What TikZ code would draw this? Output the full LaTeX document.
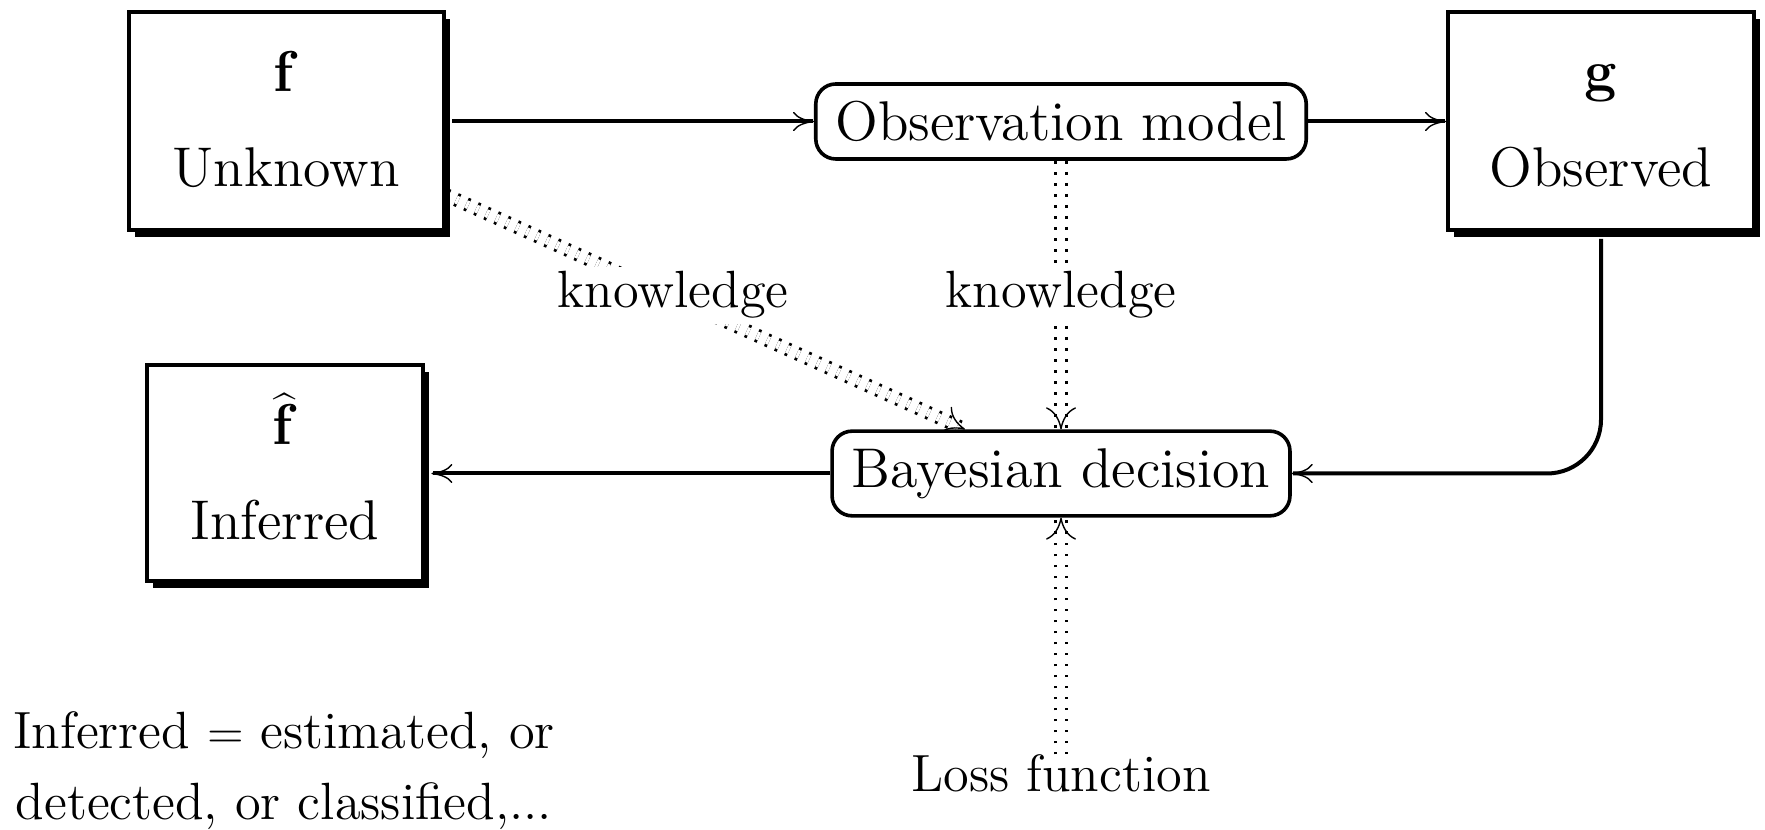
\documentclass[tikz,border=0pt]{standalone}
\usetikzlibrary{arrows.meta,shadows,backgrounds,decorations.markings}
\begin{document}
\begin{tikzpicture}[x=0.25pt,y=-0.25pt,
  bigfont/.style={font=\fontsize{14}{16}\selectfont},
  smallfont/.style={font=\fontsize{13.1}{15}\selectfont},
  sbox/.style={draw, line width=1pt, fill=white, inner sep=0pt,
    drop shadow={shadow xshift=1.6pt, shadow yshift=-1.6pt, fill=black, opacity=1}},
  rbox/.style={draw, line width=0.9pt, fill=white, rounded corners=5pt,
    inner xsep=4.9pt, inner ysep=4.3pt, bigfont},
  intext/.style={anchor=base, inner sep=0pt, bigfont},
  plain/.style={anchor=base, inner sep=0pt, smallfont},
  lbl/.style={anchor=base, fill=white, inner sep=1.2pt, smallfont},
  arr/.style={line width=1pt,
    -{Computer Modern Rightarrow[length=5.25pt,width=4.8pt,line width=0.35pt]}},
  kline/.style={line width=0.7pt, double distance=2.05pt,
    dash pattern=on 0.7pt off 2.05pt},
  ktip/.style={decorate, decoration={markings, mark=at position 0.9999 with
    {\arrow{Computer Modern Rightarrow[length=5.5pt,width=7.5pt,line width=0.35pt]}}}},
]
\useasboundingbox (0,0) rectangle (1765,830);

% shadowed boxes with their two text lines
\node[sbox, minimum width=78.75pt, minimum height=54.5pt] (fbox) at (286.5,121.5) {};
\node[intext] (ftext) at (286,92) {$\mathbf{f}$};
\node[intext] (flabel) at (286,187) {Unknown};

\node[sbox, minimum width=76.5pt, minimum height=54.5pt] (gbox) at (1601,121.5) {};
\node[intext] (gtext) at (1601,91) {$\mathbf{g}$};
\node[intext] (glabel) at (1601,187) {Observed};

\node[sbox, minimum width=69pt, minimum height=54pt] (fhbox) at (285,473.5) {};
\node[intext] (fhtext) at (285,445) {$\widehat{\mathbf{f}}$};
\node[intext] (fhlabel) at (285,540) {Inferred};

% rounded process boxes
\node[rbox] (obs) at (1061,121.5) {Observation model};
\node[rbox] (bayes) at (1061,473.5) {Bayesian decision};

% labels and free text
\node[lbl] (k1) at (673,308) {knowledge};
\node[lbl] (k2) at (1061,308) {knowledge};
\node[plain] (loss) at (1061,792) {Loss function};
\node[plain] (note1) at (284,749) {Inferred $=$ estimated, or};
\node[plain] (note2) at (284,820) {detected, or classified,...};

\coordinate (kstart) at (fbox.east |- 0,195);
\coordinate (kend) at (bayes.north -| 965,0);

\begin{scope}[on background layer]
  \draw[arr] ([xshift=1.6pt]fbox.east) -- (obs.west);
  \draw[arr] (obs.east) -- (gbox.west);
  \draw[arr, rounded corners=13.5pt] ([yshift=-1.6pt]gbox.south) |- (bayes.east);
  \draw[arr] (bayes.west) -- ([xshift=1.6pt]fhbox.east);

  \draw[kline] (kstart) -- (kend);
  \path[ktip] (kstart) -- (kend);
  \draw[kline] (obs.south) -- (bayes.north);
  \path[ktip] (obs.south) -- (bayes.north);
  \draw[kline] (loss.north) -- (bayes.south);
  \path[ktip] (loss.north) -- (bayes.south);
\end{scope}
\end{tikzpicture}
\end{document}
